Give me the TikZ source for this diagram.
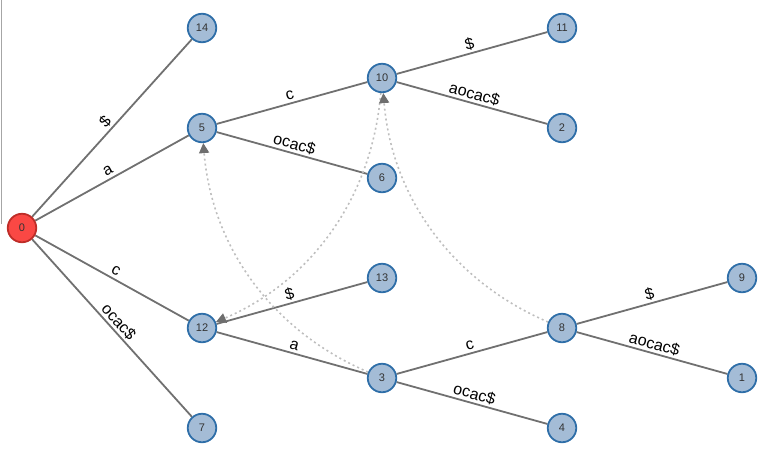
\documentclass[tikz,border=0pt]{standalone}
\usepackage{fontspec}
\setmainfont{Liberation Sans}
\usetikzlibrary{arrows.meta,backgrounds}
\definecolor{nodefill}{RGB}{164,188,214}
\definecolor{nodeborder}{RGB}{46,110,168}
\definecolor{rootfill}{RGB}{250,72,68}
\definecolor{rootborder}{RGB}{190,45,40}
\definecolor{edgegray}{RGB}{112,112,112}
\definecolor{linkgray}{RGB}{190,190,190}
\definecolor{tipgray}{RGB}{110,110,110}
\definecolor{numtext}{RGB}{51,51,51}
\tikzset{
  tnode/.style={circle, draw=nodeborder, fill=nodefill, line width=1.8pt,
    minimum size=28.5pt, inner sep=0pt, font=\fontsize{11}{11}\selectfont, text=numtext},
  rootnode/.style={tnode, draw=rootborder, fill=rootfill},
  edge/.style={draw=edgegray, line width=1.8pt},
  elabel/.style={midway, sloped, above=3pt, inner sep=0pt, text=black,
    font=\fontsize{16}{16}\selectfont, text height=1.1ex, text depth=0pt},
  link/.style={draw=linkgray, line width=1.6pt, dash pattern=on 2pt off 3pt,
    -{Triangle[length=10pt,width=10pt,color=tipgray]}},
  frameline/.style={draw=gray!70, line width=1pt}
}
\begin{document}
\begin{tikzpicture}[x=1pt,y=-1pt]
\useasboundingbox (0,0) rectangle (770,464);
\coordinate (ftop) at (1.5,0);
\coordinate (fbot) at (1.5,224);
\draw[frameline] (ftop) -- (fbot);
% nodes
\node[rootnode] (n0) at (22,228) {0};
\node[tnode] (n14) at (202,28) {14};
\node[tnode] (n5) at (202,128) {5};
\node[tnode] (n12) at (202,328) {12};
\node[tnode] (n7) at (202,428) {7};
\node[tnode] (n10) at (382,78) {10};
\node[tnode] (n6) at (382,178) {6};
\node[tnode] (n13) at (382,278) {13};
\node[tnode] (n3) at (382,378) {3};
\node[tnode] (n11) at (562,28) {11};
\node[tnode] (n2) at (562,128) {2};
\node[tnode] (n8) at (562,328) {8};
\node[tnode] (n4) at (562,428) {4};
\node[tnode] (n9) at (742,278) {9};
\node[tnode] (n1) at (742,378) {1};
\begin{pgfonlayer}{background}
% tree edges
\path[edge] (n0) -- node[elabel] {\$} (n14);
\path[edge] (n0) -- node[elabel] {a} (n5);
\path[edge] (n0) -- node[elabel] {c} (n12);
\path[edge] (n0) -- node[elabel] {ocac\$} (n7);
\path[edge] (n5) -- node[elabel] {c} (n10);
\path[edge] (n5) -- node[elabel] {ocac\$} (n6);
\path[edge] (n10) -- node[elabel] {\$} (n11);
\path[edge] (n10) -- node[elabel] {aocac\$} (n2);
\path[edge] (n12) -- node[elabel] {\$} (n13);
\path[edge] (n12) -- node[elabel] {a} (n3);
\path[edge] (n3) -- node[elabel] {c} (n8);
\path[edge] (n3) -- node[elabel] {ocac\$} (n4);
\path[edge] (n8) -- node[elabel] {\$} (n9);
\path[edge] (n8) -- node[elabel] {aocac\$} (n1);
% suffix links
\draw[link] (n3) .. controls (272,330.7) and (212,247.3) .. (n5);
\draw[link] (n10) .. controls (372,197.3) and (312,280.7) .. (n12);
\draw[link] (n8) .. controls (452,280.7) and (392,197.3) .. (n10);
\end{pgfonlayer}
\end{tikzpicture}
\end{document}
